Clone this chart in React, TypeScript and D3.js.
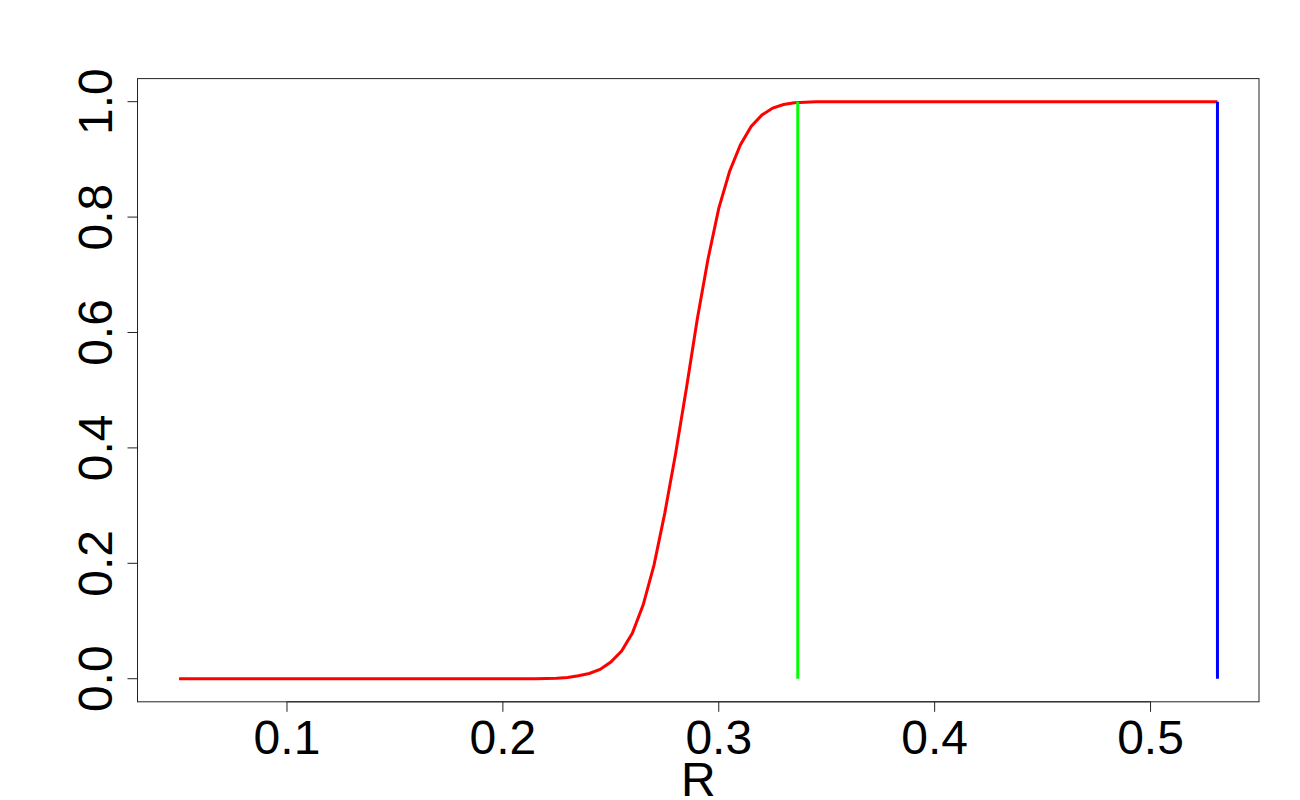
import React from "react";
import * as d3 from "d3";

// curve samples (flat parts only need their ends)
const rValues = [
  0.05, 0.1, 0.15, 0.2, 0.215, 0.22, 0.225, 0.23, 0.235, 0.24, 0.245, 0.25,
  0.255, 0.26, 0.265, 0.27, 0.275, 0.28, 0.285, 0.29, 0.295, 0.3, 0.305, 0.31,
  0.315, 0.32, 0.325, 0.33, 0.335, 0.34, 0.345, 0.4, 0.45, 0.5, 0.531,
];
const probValues = [
  0, 0, 0, 0, 0, 0.0005, 0.001, 0.002, 0.005, 0.009, 0.016, 0.029, 0.048,
  0.079, 0.128, 0.197, 0.287, 0.39, 0.503, 0.622, 0.727, 0.815, 0.879, 0.925,
  0.957, 0.977, 0.989, 0.995, 0.998, 0.999, 1, 1, 1, 1, 1,
];

// vertical markers: [x, color]
const markerX = [0.3366, 0.531];
const markerColors = ["#00ff00", "#0000ff"];

const xTicks = [0.1, 0.2, 0.3, 0.4, 0.5];
const yTicks = [0, 0.2, 0.4, 0.6, 0.8, 1.0];
const xLabel = "R";

const W = 1300;
const H = 800;
const box = { left: 137.5, right: 1259, top: 78.6, bottom: 701.8 };
const font = "'Liberation Sans', Arial, Helvetica, sans-serif";

const App = () => {
  // R style 4% padding on both axes
  const xMin = d3.min(rValues) as number;
  const xMax = d3.max(rValues) as number;
  const padX = (xMax - xMin) * 0.04;
  const x = d3
    .scaleLinear()
    .domain([xMin - padX, xMax + padX])
    .range([box.left, box.right]);
  const y = d3
    .scaleLinear()
    .domain([-0.04, 1.04])
    .range([box.bottom, box.top]);

  const pts: [number, number][] = rValues.map((r, i) => [r, probValues[i]]);
  const line = d3
    .line<[number, number]>()
    .x((d) => x(d[0]))
    .y((d) => y(d[1]));

  return (
    <div style={{ position: "fixed", left: 0, top: 0 }}>
      <svg width={W} height={H} style={{ display: "block", background: "#fff" }}>
        <rect
          x={box.left}
          y={box.top}
          width={box.right - box.left}
          height={box.bottom - box.top}
          fill="none"
          stroke="#222"
          strokeWidth={1}
        />
        {/* x axis */}
        <g>
          <line
            x1={x(xTicks[0])}
            x2={x(xTicks[xTicks.length - 1])}
            y1={box.bottom}
            y2={box.bottom}
            stroke="#222"
          />
          {xTicks.map((t) => (
            <g key={t}>
              <line
                x1={x(t)}
                x2={x(t)}
                y1={box.bottom}
                y2={box.bottom + 10}
                stroke="#222"
              />
              <text
                x={x(t)}
                y={753.5}
                textAnchor="middle"
                fontFamily={font}
                fontSize={48}
              >
                {t.toFixed(1)}
              </text>
            </g>
          ))}
          <text
            x={(box.left + box.right) / 2}
            y={796}
            textAnchor="middle"
            fontFamily={font}
            fontSize={48}
          >
            {xLabel}
          </text>
        </g>
        {/* y axis */}
        <g>
          <line
            x1={box.left}
            x2={box.left}
            y1={y(yTicks[0])}
            y2={y(yTicks[yTicks.length - 1])}
            stroke="#222"
          />
          {yTicks.map((t) => (
            <g key={t}>
              <line
                x1={box.left - 10}
                x2={box.left}
                y1={y(t)}
                y2={y(t)}
                stroke="#222"
              />
              <text
                transform={`translate(111.5 ${y(t)}) rotate(-90)`}
                textAnchor="middle"
                fontFamily={font}
                fontSize={48}
              >
                {t.toFixed(1)}
              </text>
            </g>
          ))}
        </g>
        <path d={line(pts) || ""} fill="none" stroke="#ff0000" strokeWidth={3} />
        {markerX.map((m, i) => (
          <line
            key={m}
            x1={x(m)}
            x2={x(m)}
            y1={y(0)}
            y2={y(1)}
            stroke={markerColors[i]}
            strokeWidth={3}
          />
        ))}
      </svg>
    </div>
  );
};

export default App;
